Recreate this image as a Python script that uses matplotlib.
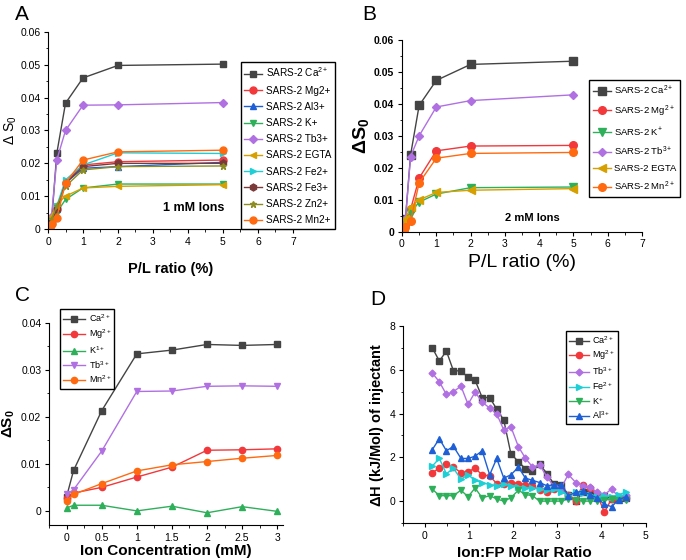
import matplotlib
matplotlib.use('Agg')
import matplotlib.pyplot as plt
from matplotlib.ticker import MultipleLocator, AutoMinorLocator

plt.rcParams['font.family'] = ['Liberation Sans', 'DejaVu Sans']
plt.rcParams['mathtext.fontset'] = 'custom'
plt.rcParams['mathtext.rm'] = 'Liberation Sans'
plt.rcParams['mathtext.it'] = 'Liberation Sans'
plt.rcParams['mathtext.bf'] = 'Liberation Sans:bold'

# ---- Panel A: 1 mM ions ----
pl_ratio = [0.05, 0.1, 0.25, 0.5, 1, 2, 5]
a_labels = ['SARS-2 Ca$^{2+}$', 'SARS-2 Mg2+', 'SARS-2 Al3+', 'SARS-2 K+', 'SARS-2 Tb3+',
            'SARS-2 EGTA', 'SARS-2 Fe2+', 'SARS-2 Fe3+', 'SARS-2 Zn2+', 'SARS-2 Mn2+']
a_ca = [0.001, 0.002, 0.023, 0.0383, 0.046, 0.0498, 0.0502]
a_mg = [0.001, 0.003, 0.006, 0.014, 0.0195, 0.0205, 0.021]
a_al = [0.001, 0.002, 0.006, 0.014, 0.0185, 0.019, 0.0203]
a_k = [0.001, 0.002, 0.005, 0.009, 0.0125, 0.0137, 0.0137]
a_tb = [0.002, 0.004, 0.021, 0.030, 0.0377, 0.0378, 0.0385]
a_egta = [0.002, 0.004, 0.0075, 0.010, 0.0125, 0.013, 0.0135]
a_fe2 = [0.001, 0.002, 0.007, 0.015, 0.0195, 0.0232, 0.023]
a_fe3 = [0.001, 0.002, 0.006, 0.014, 0.019, 0.020, 0.020]
a_zn = [0.001, 0.003, 0.007, 0.013, 0.018, 0.019, 0.0192]
a_mn = [0.0005, 0.0015, 0.0035, 0.014, 0.021, 0.0235, 0.024]

# ---- Panel B: 2 mM ions ----
b_labels = ['SARS-2 Ca$^{2+}$', 'SARS-2 Mg$^{2+}$', 'SARS-2 K$^{+}$', 'SARS-2 Tb$^{3+}$',
            'SARS-2 EGTA', 'SARS-2 Mn$^{2+}$']
b_ca = [0.002, 0.004, 0.024, 0.0395, 0.0473, 0.0523, 0.0533]
b_mg = [0.001, 0.002, 0.007, 0.0168, 0.0253, 0.0268, 0.027]
b_k = [0.001, 0.002, 0.006, 0.0093, 0.0118, 0.0138, 0.014]
b_tb = [0.002, 0.004, 0.0235, 0.030, 0.039, 0.041, 0.0428]
b_egta = [0.002, 0.004, 0.0078, 0.010, 0.0123, 0.013, 0.0135]
b_mn = [0.0005, 0.0015, 0.0035, 0.0153, 0.023, 0.0245, 0.0248]

# ---- Panel C: ion concentration ----
conc = [0, 0.1, 0.5, 1, 1.5, 2, 2.5, 3]
c_labels = ['Ca$^{2+}$', 'Mg$^{2+}$', 'K$^{1+}$', 'Tb$^{3+}$', 'Mn$^{2+}$']
c_ca = [0.003, 0.0086, 0.0213, 0.0334, 0.0342, 0.0354, 0.0352, 0.0354]
c_mg = [0.0028, 0.0038, 0.005, 0.0072, 0.0093, 0.0129, 0.013, 0.0132]
c_k = [0.0006, 0.0012, 0.0012, 0.0, 0.001, -0.0004, 0.0009, -0.0001]
c_tb = [0.0035, 0.0045, 0.0127, 0.0254, 0.0255, 0.0265, 0.0266, 0.0265]
c_mn = [0.0022, 0.0035, 0.0058, 0.0085, 0.0098, 0.0105, 0.0112, 0.0118]

# ---- Panel D: ITC enthalpy ----
molar = [0.17, 0.33, 0.49, 0.65, 0.82, 0.98, 1.14, 1.30, 1.47, 1.63, 1.79, 1.95, 2.12, 2.28,
         2.44, 2.60, 2.77, 2.93, 3.09, 3.25, 3.42, 3.58, 3.74, 3.90, 4.07, 4.23, 4.39, 4.55]
d_labels = ['Ca$^{2+}$', 'Mg$^{2+}$', 'Tb$^{3+}$', 'Fe$^{2+}$', 'K$^{+}$', 'Al$^{3+}$']
d_ca = [7.0, 6.4, 6.85, 5.95, 5.95, 5.65, 5.52, 4.73, 4.73, 4.2, 3.7, 2.17, 1.8, 1.48,
        1.38, 1.68, 1.26, 0.76, 0.75, 0.3, 0.0, 0.4, 0.35, 0.2, 0.25, 0.1, 0.15, 0.15]
d_mg = [1.3, 1.5, 1.7, 1.55, 1.3, 1.35, 1.5, 1.2, 1.15, 0.8, 0.8, 0.85, 0.8, 0.75,
        0.7, 0.5, 0.4, 0.55, 0.5, 0.3, 0.0, 0.75, 0.6, 0.3, -0.5, 0.1, 0.15, 0.15]
d_tb = [5.85, 5.45, 4.87, 5.0, 5.25, 4.42, 4.98, 4.52, 4.25, 3.98, 3.25, 3.4, 2.49, 1.96,
        1.56, 1.65, 1.1, 0.67, 0.6, 1.22, 0.85, 0.7, 0.65, 0.4, 0.3, 0.55, 0.2, 0.3]
d_fe = [1.6, 1.95, 1.25, 1.5, 1.0, 1.2, 0.95, 0.85, 0.75, 0.7, 0.8, 0.7, 0.65, 0.6,
        0.6, 0.55, 0.5, 0.55, 0.4, 0.3, 0.4, 0.35, 0.3, 0.2, 0.25, 0.2, 0.3, 0.4]
d_k = [0.55, 0.25, 0.25, 0.25, 0.5, 0.2, 0.6, 0.15, 0.25, 0.1, 0.0, 0.15, 0.5, 0.3,
       0.25, 0.0, 0.0, 0.0, 0.0, 0.1, 0.05, 0.0, 0.0, 0.0, 0.05, 0.1, 0.05, 0.05]
d_al = [2.35, 2.85, 2.3, 2.5, 1.95, 1.95, 2.05, 2.3, 1.2, 1.95, 1.05, 1.2, 1.55, 1.05,
        0.95, 0.85, 0.7, 0.75, 0.75, 0.25, 0.4, 0.45, 0.3, 0.15, -0.15, -0.25, 0.05, 0.2]

# colours / markers (Origin-like)
C_CA, C_MG, C_AL, C_K = '#444444', '#F2383A', '#1E5FD6', '#2EAF5A'
C_TB, C_EGTA, C_FE2, C_FE3 = '#B070E2', '#D6A000', '#1ECFD6', '#7A3A3A'
C_ZN, C_MN = '#8C8C20', '#FF6A10'


def style_axis(ax):
	for s in ['top', 'right']:
		ax.spines[s].set_visible(False)
	ax.tick_params(direction='out', length=3, width=0.8, labelsize=7.5, pad=2.5)
	ax.tick_params(which='minor', direction='out', length=1.8, width=0.6)
	ax.xaxis.set_minor_locator(AutoMinorLocator(2))
	ax.yaxis.set_minor_locator(AutoMinorLocator(2))


def add_legend(ax, anchor, fs, hl, ls):
	ax.legend(loc='upper left', bbox_to_anchor=anchor, bbox_transform=fig.transFigure,
	          fontsize=fs, frameon=True, fancybox=False, edgecolor='black', framealpha=1,
	          handlelength=hl, labelspacing=ls, borderpad=0.35, handletextpad=0.35,
	          borderaxespad=0)


fig = plt.figure(figsize=(6.86, 5.6), dpi=100)

# ---------------- A ----------------
axA = fig.add_axes([0.070, 0.591, 0.357, 0.352])
seriesA = [(a_ca, C_CA, 's'), (a_mg, C_MG, 'o'), (a_al, C_AL, '^'), (a_k, C_K, 'v'),
           (a_tb, C_TB, 'D'), (a_egta, C_EGTA, '<'), (a_fe2, C_FE2, '>'), (a_fe3, C_FE3, 'h'),
           (a_zn, C_ZN, '*'), (a_mn, C_MN, 'o')]
for (vals, col, mk), lab in zip(seriesA, a_labels):
	ms = 4 if mk == 'D' else 5
	axA.plot(pl_ratio, vals, color=col, marker=mk, ms=ms, lw=1.0, label=lab)
axA.set_xlim(0, 7)
axA.set_ylim(0, 0.06)
axA.xaxis.set_major_locator(MultipleLocator(1))
axA.set_yticks([0, 0.01, 0.02, 0.03, 0.04, 0.05, 0.06])
axA.set_yticklabels(['0', '0.01', '0.02', '0.03', '0.04', '0.05', '0.06'])
style_axis(axA)
axA.set_xlabel('P/L ratio (%)', fontsize=10.5, fontweight='bold', labelpad=11)
axA.set_ylabel(r'$\Delta$ S$_0$', fontsize=10, labelpad=1)
axA.text(3.3, 0.0055, '1 mM Ions', fontsize=9, fontweight='bold')
add_legend(axA, (0.351, 0.889), 7.2, 1.8, 0.62)
fig.text(0.022, 0.975, 'A', fontsize=15, va='center')

# ---------------- B ----------------
axB = fig.add_axes([0.586, 0.586, 0.350, 0.343])
seriesB = [(b_ca, C_CA, 's'), (b_mg, C_MG, 'o'), (b_k, C_K, 'v'), (b_tb, C_TB, 'D'),
           (b_egta, C_EGTA, '<'), (b_mn, C_MN, 'o')]
for (vals, col, mk), lab in zip(seriesB, b_labels):
	ms = 4.5 if mk == 'D' else 5.5
	axB.plot(pl_ratio, vals, color=col, marker=mk, ms=ms, lw=1.0, label=lab)
axB.set_xlim(0, 7)
axB.set_ylim(0, 0.06)
axB.xaxis.set_major_locator(MultipleLocator(1))
axB.set_yticks([0, 0.01, 0.02, 0.03, 0.04, 0.05, 0.06])
axB.set_yticklabels(['0', '0.01', '0.02', '0.03', '0.04', '0.05', '0.06'])
style_axis(axB)
for t in axB.get_yticklabels():
	t.set_fontweight('bold')
axB.set_xlabel('P/L ratio (%)', fontsize=14, labelpad=3)
axB.set_ylabel(r'$\mathbf{\Delta S_0}$', fontsize=14, labelpad=2)
axB.text(3.0, 0.0035, '2 mM Ions', fontsize=8, fontweight='bold')
add_legend(axB, (0.859, 0.857), 6.8, 1.9, 0.7)
fig.text(0.528, 0.975, 'B', fontsize=15, va='center')

# ---------------- C ----------------
axC = fig.add_axes([0.0714, 0.0625, 0.341, 0.361])
seriesC = [(c_ca, C_CA, 's'), (c_mg, C_MG, 'o'), (c_k, C_K, '^'), (c_tb, C_TB, 'v'),
           (c_mn, C_MN, 'o')]
for (vals, col, mk), lab in zip(seriesC, c_labels):
	axC.plot(conc, vals, color=col, marker=mk, ms=4.5, lw=1.0, label=lab)
axC.set_xlim(-0.25, 3.08)
axC.set_ylim(-0.003, 0.04)
axC.set_xticks([0, 0.5, 1, 1.5, 2, 2.5, 3])
axC.set_xticklabels(['0', '0.5', '1', '1.5', '2', '2.5', '3'])
axC.set_yticks([0, 0.01, 0.02, 0.03, 0.04])
axC.set_yticklabels(['0', '0.01', '0.02', '0.03', '0.04'])
style_axis(axC)
axC.set_xlabel('Ion Concentration (mM)', fontsize=11, fontweight='bold', labelpad=1)
axC.set_ylabel(r'$\mathbf{\Delta S_0}$', fontsize=11, labelpad=3)
add_legend(axC, (0.087, 0.448), 6.5, 2.5, 0.35)
fig.text(0.022, 0.473, 'C', fontsize=15, va='center')

# ---------------- D ----------------
axD = fig.add_axes([0.587, 0.066, 0.354, 0.352])
seriesD = [(d_ca, C_CA, 's'), (d_mg, C_MG, 'o'), (d_tb, C_TB, 'D'), (d_fe, C_FE2, '>'),
           (d_k, C_K, 'v'), (d_al, C_AL, '^')]
for (vals, col, mk), lab in zip(seriesD, d_labels):
	ms = 3.5 if mk == 'D' else 4.5
	axD.plot(molar, vals, color=col, marker=mk, ms=ms, lw=1.0, label=lab)
axD.set_xlim(-0.5, 5)
axD.set_ylim(-1, 8)
axD.xaxis.set_major_locator(MultipleLocator(1))
axD.yaxis.set_major_locator(MultipleLocator(2))
style_axis(axD)
axD.set_xlabel('Ion:FP Molar Ratio', fontsize=11, fontweight='bold', labelpad=4)
axD.set_ylabel(r'$\mathbf{\Delta}$H (kJ/Mol) of injectant', fontsize=10.5, fontweight='bold',
               labelpad=2)
add_legend(axD, (0.825, 0.409), 6.5, 2.2, 0.33)
fig.text(0.540, 0.465, 'D', fontsize=15, va='center')

fig.savefig('out.png', dpi=100)
